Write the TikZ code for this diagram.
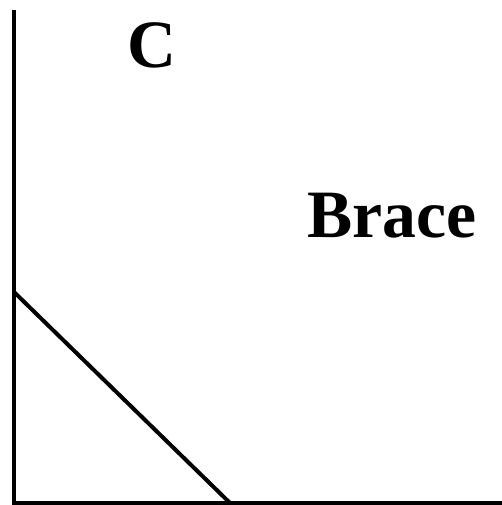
\documentclass[tikz,border=0pt]{standalone}
\usepackage{fontspec}
\setmainfont{Liberation Serif}
\begin{document}
\begin{tikzpicture}[x=1bp,y=-1bp,
  edge/.style={line width=4bp,black},
  lbl/.style={font=\fontsize{68}{68}\selectfont\bfseries,inner sep=0pt,anchor=base}]
\useasboundingbox (0,0) rectangle (502,505);
\fill[white] (0,0) rectangle (502,505);
\coordinate (top) at (14,10);
\coordinate (corner) at (14,503);
\coordinate (right) at (502,503);
\coordinate (d1) at (14,292);
\coordinate (d2) at (230,503);
\draw[edge] (top) -- (corner) -- (right);
\draw[edge] (d1) -- (d2);
\node[lbl] (c) at (152,68) {C};
\node[lbl] (brace) at (392,237) {Brace};
\end{tikzpicture}
\end{document}
